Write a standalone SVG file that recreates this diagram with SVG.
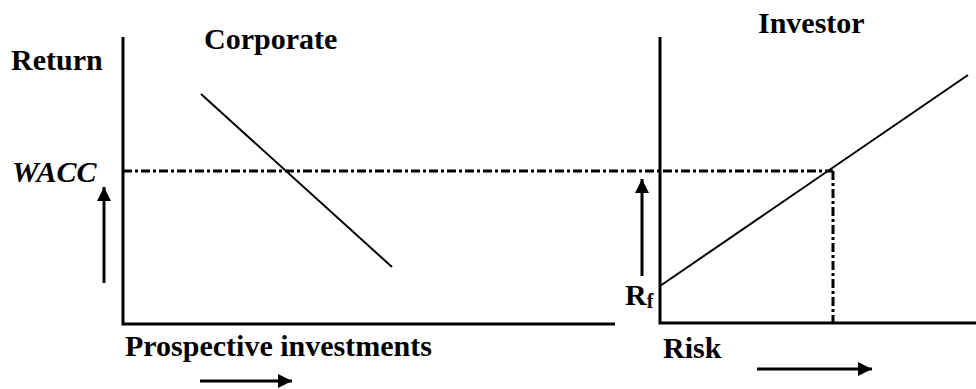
<svg xmlns="http://www.w3.org/2000/svg" width="976" height="389" viewBox="0 0 976 389">
<defs>
<marker id="ah" viewBox="0 0 10 10" refX="10" refY="5" markerWidth="14" markerHeight="14" markerUnits="userSpaceOnUse" orient="auto">
<path d="M0,0 L10,5 L0,10 Z" fill="#000"/>
</marker>
</defs>
<style>
.t{font-family:"Liberation Serif","Times New Roman",serif;font-weight:bold;font-size:30px;fill:#000}
.ax{stroke:#000;stroke-width:3;fill:none}
.ln{stroke:#000;stroke-width:2;fill:none}
.dd{stroke:#000;stroke-width:3;fill:none;stroke-dasharray:9 3 3 3}
.ar{stroke:#000;stroke-width:3;fill:none;marker-end:url(#ah)}
</style>
<rect width="976" height="389" fill="#fff"/>
<g id="corporate-chart">
<path class="ax" d="M123,37 V324 H615"/>
<line class="ln" x1="201" y1="94" x2="392" y2="267"/>
</g>
<g id="investor-chart">
<path class="ax" d="M660,37 V323 H976"/>
<line class="ln" x1="660" y1="286" x2="968" y2="75"/>
</g>
<g id="connectors">
<line class="dd" x1="123" y1="171" x2="833" y2="171"/>
<line class="dd" x1="833" y1="171" x2="833" y2="322"/>
<line class="ar" x1="104" y1="283" x2="104" y2="187"/>
<line class="ar" x1="642" y1="276" x2="642" y2="179"/>
<line class="ar" x1="200" y1="381" x2="292" y2="381"/>
<line class="ar" x1="757" y1="369" x2="872" y2="369"/>
</g>
<g id="labels">
<text class="t" x="11" y="70">Return</text>
<text class="t" x="204" y="49">Corporate</text>
<text class="t" x="758" y="33">Investor</text>
<text class="t" x="12" y="182" font-style="italic">WACC</text>
<text class="t" x="125" y="356">Prospective investments</text>
<text class="t" x="663" y="358">Risk</text>
<text class="t" x="625" y="305">R<tspan font-size="20" dy="3">f</tspan></text>
</g>
</svg>
